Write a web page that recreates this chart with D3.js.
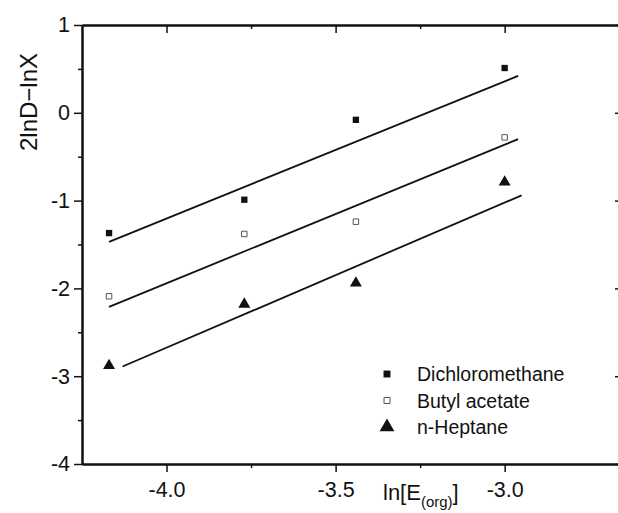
<!DOCTYPE html>
<html>
<head>
<meta charset="utf-8">
<script src="https://cdn.jsdelivr.net/npm/d3@7"></script>
<style>
  body { margin: 0; background: #fff; }
  text { font-family: "Liberation Sans", Arial, sans-serif; fill: #111; }
</style>
</head>
<body>
<script>
// measured values
let xVals = [-4.17, -3.77, -3.44, -3.00]
let dcm = [-1.37, -0.99, -0.08, 0.51]
let butyl = [-2.09, -1.38, -1.24, -0.28]
let heptane = [-2.88, -2.18, -1.94, -0.79]

// fitted lines: start / end in data units
let fitX0 = [-4.17, -4.17, -4.13]
let fitY0 = [-1.47, -2.21, -2.89]
let fitX1 = [-2.96, -2.96, -2.95]
let fitY1 = [0.42, -0.30, -0.94]

let seriesNames = ['Dichloromethane', 'Butyl acetate', 'n-Heptane']
let seriesVals = [dcm, butyl, heptane]

let xMajor = [-4.0, -3.5, -3.0]
let xMinor = [-3.75, -3.25]
let yMajor = [-4, -3, -2, -1, 0, 1]
let yMinor = [-3.5, -2.5, -1.5, -0.5, 0.5]

let svg = d3
  .select('body')
  .append('svg')
  .attr('width', 618)
  .attr('height', 513)

let x = d3
  .scaleLinear()
  .domain([-4.25, -2.65])
  .range([82, 623])

let y = d3
  .scaleLinear()
  .domain([-4, 1])
  .range([464, 25])

// axes
let fmtX = (d) => d.toFixed(1)
let fmtY = (d) => '' + d

function styleAxis(g) {
  g.select('.domain').attr('stroke', '#111').attr('stroke-width', 2)
  g.selectAll('.tick line').attr('stroke', '#111').attr('stroke-width', 1.5)
  g.selectAll('.tick text')
    .style('font-family', '"Liberation Sans", Arial, sans-serif')
    .style('font-size', '21.5px')
    .attr('fill', '#111')
}

svg.append('g')
  .attr('transform', 'translate(0,464)')
  .call(d3.axisBottom(x).tickValues(xMajor).tickFormat(fmtX).tickSize(8).tickSizeOuter(0).tickPadding(10))
  .call(styleAxis)

svg.append('g')
  .attr('transform', 'translate(0,464)')
  .call(d3.axisBottom(x).tickValues(xMinor).tickFormat('').tickSize(4).tickSizeOuter(0))
  .call(styleAxis)

svg.append('g')
  .attr('transform', 'translate(0,25)')
  .call(d3.axisBottom(x).tickValues(xMajor).tickFormat('').tickSize(8).tickSizeOuter(0))
  .call(styleAxis)

svg.append('g')
  .attr('transform', 'translate(0,25)')
  .call(d3.axisBottom(x).tickValues(xMinor).tickFormat('').tickSize(4).tickSizeOuter(0))
  .call(styleAxis)

svg.append('g')
  .attr('transform', 'translate(82,0)')
  .call(d3.axisLeft(y).tickValues(yMajor).tickFormat(fmtY).tickSize(8).tickSizeOuter(0).tickPadding(4))
  .call(styleAxis)

svg.append('g')
  .attr('transform', 'translate(82,0)')
  .call(d3.axisLeft(y).tickValues(yMinor).tickFormat('').tickSize(4).tickSizeOuter(0))
  .call(styleAxis)

svg.append('g')
  .attr('transform', 'translate(623,0)')
  .call(d3.axisRight(y).tickValues(yMajor).tickFormat('').tickSize(-8).tickSizeOuter(0))
  .call(styleAxis)

// axis titles
svg.append('text')
  .attr('transform', 'translate(37,102) rotate(-90)')
  .attr('text-anchor', 'middle')
  .style('font-size', '24px')
  .text('2lnD\u2212lnX')

let xt = svg.append('text')
  .attr('x', 383)
  .attr('y', 500)
  .style('font-size', '22px')
xt.append('tspan').text('ln[E')
xt.append('tspan').attr('dy', 7).style('font-size', '15px').text('(org)')
xt.append('tspan').attr('dy', -7).text(']')

// fit lines
svg.append('g')
  .selectAll('line')
  .data(fitX0)
  .join('line')
  .attr('x1', (d) => x(d))
  .attr('y1', (d, i) => y(fitY0[i]))
  .attr('x2', (d, i) => x(fitX1[i]))
  .attr('y2', (d, i) => y(fitY1[i]))
  .attr('stroke', '#111')
  .attr('stroke-width', 1.8)

// markers
let shapes = [
  { type: d3.symbolSquare, size: 40, fill: '#111', stroke: 'none' },
  { type: d3.symbolSquare, size: 30, fill: '#fff', stroke: '#555' },
  { type: d3.symbolTriangle, size: 62, fill: '#111', stroke: 'none' }
]

seriesVals.forEach(function (vals, s) {
  svg.append('g')
    .selectAll('path')
    .data(vals)
    .join('path')
    .attr('transform', (d, i) => 'translate(' + x(xVals[i]) + ',' + y(d) + ')')
    .attr('d', d3.symbol().type(shapes[s].type).size(shapes[s].size))
    .attr('fill', shapes[s].fill)
    .attr('stroke', shapes[s].stroke)
})

// legend
let legend = svg.append('g')
  .attr('transform', 'translate(387,374)')

seriesNames.forEach(function (name, s) {
  let row = legend.append('g').attr('transform', 'translate(0,' + s * 26.5 + ')')
  row.append('path')
    .attr('d', d3.symbol().type(shapes[s].type).size(s === 2 ? 95 : (s === 0 ? 48 : 36)))
    .attr('fill', shapes[s].fill)
    .attr('stroke', shapes[s].stroke)
  row.append('text')
    .attr('x', 30)
    .attr('y', 7)
    .style('font-size', '19.5px')
    .text(name)
})
</script>
</body>
</html>
